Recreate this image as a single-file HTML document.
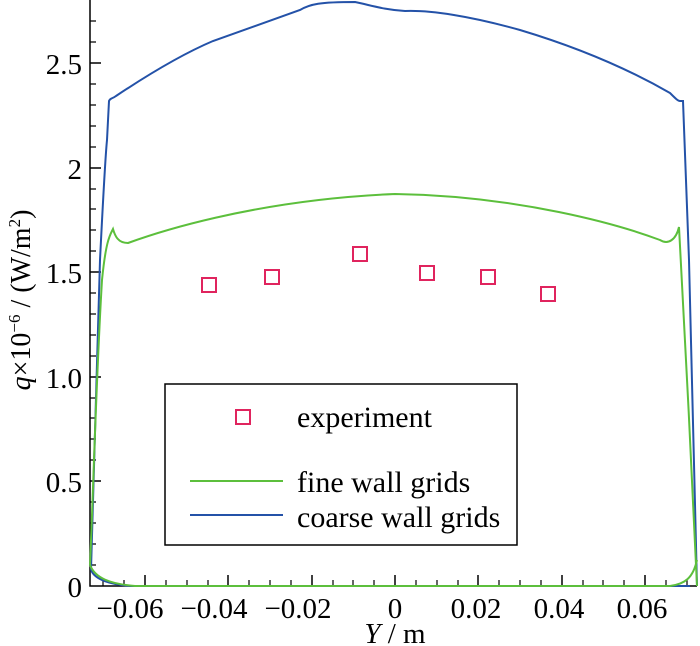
<!DOCTYPE html>
<html><head><meta charset="utf-8"><style>
body{margin:0;background:#fff}
svg{display:block;font-family:"Liberation Serif",serif}
</style></head><body>
<svg width="700" height="646" viewBox="0 0 700 646">
<g stroke="#000" stroke-width="1.5" fill="none">
<path d="M90,0 V586 H697"/>
<path d="M90,481h11 M90,377h11 M90,272h11 M90,168h11 M90,63h11"/>
<path stroke-width="1.2" d="M90,565h6 M90,544h6 M90,523h6 M90,502h6 M90,460h6 M90,439h6 M90,418h6 M90,398h6 M90,356h6 M90,335h6 M90,314h6 M90,293h6 M90,251h6 M90,230h6 M90,209h6 M90,189h6 M90,147h6 M90,126h6 M90,105h6 M90,84h6 M90,42h6 M90,21h6"/>
<path d="M145,586v-11 M228,586v-11 M312,586v-11 M395,586v-11 M478,586v-11 M562,586v-11 M645,586v-11"/>
<path stroke-width="1.2" d="M103,586v-6 M124,586v-6 M166,586v-6 M187,586v-6 M208,586v-6 M249,586v-6 M270,586v-6 M291,586v-6 M333,586v-6 M353,586v-6 M374,586v-6 M416,586v-6 M437,586v-6 M458,586v-6 M499,586v-6 M520,586v-6 M541,586v-6 M583,586v-6 M603,586v-6 M624,586v-6 M666,586v-6 M687,586v-6"/>
</g>
<g font-size="29" text-anchor="end">
<text x="82" y="597">0</text><text x="82" y="492">0.5</text><text x="82" y="388">1.0</text>
<text x="82" y="283">1.5</text><text x="82" y="179">2</text><text x="82" y="74">2.5</text>
</g>
<g font-size="29" text-anchor="middle">
<text x="130" y="618">−0.06</text><text x="214" y="618">−0.04</text><text x="298" y="618">−0.02</text>
<text x="395" y="618">0</text><text x="476" y="618">0.02</text><text x="559" y="618">0.04</text><text x="642" y="618">0.06</text>
<text x="395" y="643"><tspan font-style="italic">Y</tspan> / m</text>
</g>
<text transform="translate(30,300) rotate(-90)" font-size="28" text-anchor="middle"><tspan font-style="italic">q</tspan>×10<tspan font-size="17" dy="-10">−6</tspan><tspan dy="10"> / (W/m</tspan><tspan font-size="17" dy="-10">2</tspan><tspan dy="10">)</tspan></text>
<path fill="none" stroke="#2452a8" stroke-width="2" d="M91,570 C92,540 95,420 100,260 C103,200 105,160 107,140 L109,101 C110,98 112,99 116,96 C140,80 180,55 213,41 L300,10 C310,4 320,2 355,2 C370,5 385,10 405,11 C430,10 470,16 520,30 C580,48 630,70 670,93 C676,99 678,101 680,101 L683,101 L689,260 C692,400 695,520 697,586"/>
<path fill="none" stroke="#2452a8" stroke-width="2" d="M91,570 C95,580 110,584 130,586 L690,586"/>
<path fill="none" stroke="#5cbf3c" stroke-width="2" d="M90,565 C93,500 96,380 102,280 C106,240 110,235 113,229 C115,236 118,243 128,243 C150,235 250,200 395,194 C520,196 620,225 660,240 C668,245 676,240 679,227 C685,330 692,480 697,586"/>
<path fill="none" stroke="#5cbf3c" stroke-width="2" d="M90,565 C95,578 110,584 135,586 L670,586 C685,584 693,578 697,560"/>
<g fill="none" stroke="#e0245e" stroke-width="2">
<rect x="202" y="278" width="14" height="14"/><rect x="265" y="270" width="14" height="14"/>
<rect x="353" y="247" width="14" height="14"/><rect x="420" y="266" width="14" height="14"/>
<rect x="481" y="270" width="14" height="14"/><rect x="541" y="287" width="14" height="14"/>
</g>
<rect x="165" y="384" width="352" height="161" fill="#fff" stroke="#000" stroke-width="1.5"/>
<rect x="236" y="410" width="14" height="14" fill="none" stroke="#e0245e" stroke-width="2"/>
<line x1="190" y1="481" x2="283" y2="481" stroke="#5cbf3c" stroke-width="2"/>
<line x1="190" y1="515" x2="283" y2="515" stroke="#2452a8" stroke-width="2"/>
<g font-size="30"><text x="297" y="427">experiment</text><text x="297" y="492">fine wall grids</text><text x="297" y="527">coarse wall grids</text></g>
</svg>
</body></html>
